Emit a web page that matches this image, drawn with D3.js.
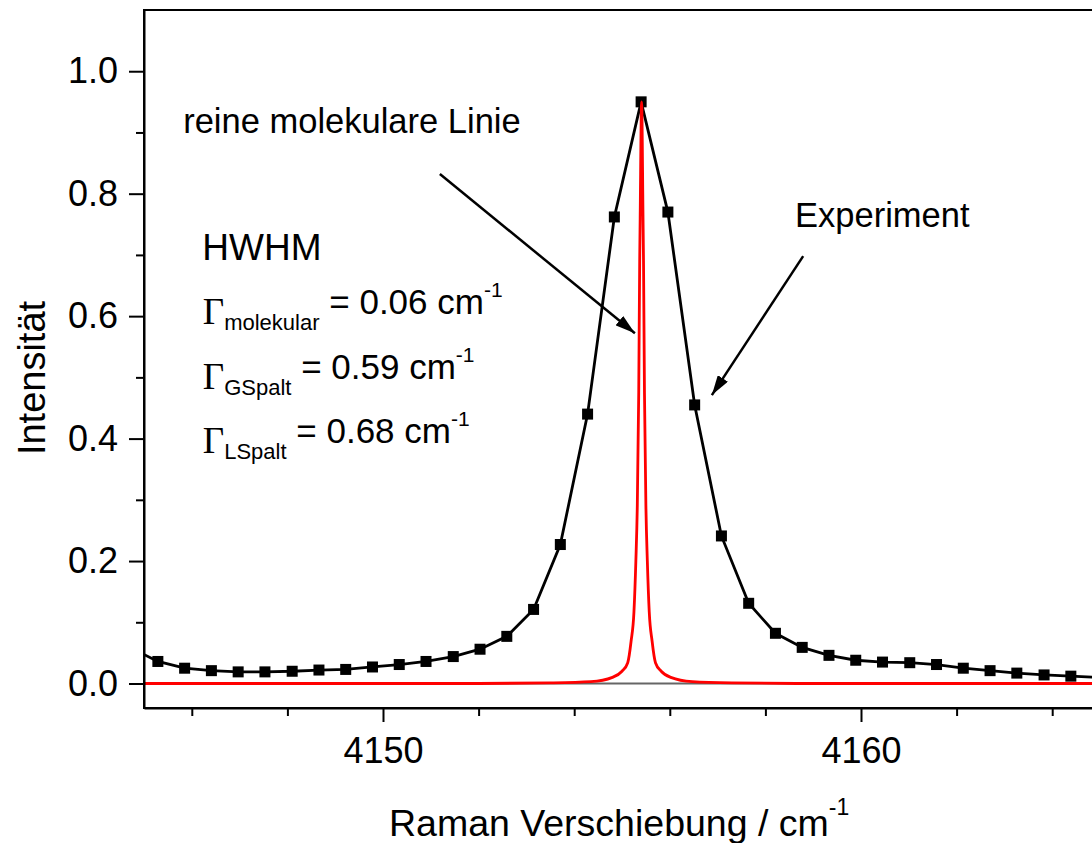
<!DOCTYPE html>
<html>
<head>
<meta charset="utf-8">
<script src="https://cdn.jsdelivr.net/npm/d3@7"></script>
<style>
	body { margin: 0; background: #fff; }
	text { font-family: "Liberation Sans", Arial, sans-serif; fill: #000; }
</style>
</head>
<body>
<div class="container"></div>
<script>
const WIDTH = 1092;
const HEIGHT = 843;
const LEFT = 144;
const RIGHT = 1100;
const TOP = 10;
const BOTTOM = 708;

// experiment: Raman shift / cm-1 and intensity
var expShift = [4144.73, 4145.29, 4145.85, 4146.41, 4146.97, 4147.53, 4148.10, 4148.66,
	4149.22, 4149.78, 4150.34, 4150.90, 4151.47, 4152.03, 4152.59, 4153.15, 4153.71,
	4154.28, 4154.84, 4155.40, 4155.96, 4156.52, 4157.08, 4157.65, 4158.21, 4158.77,
	4159.33, 4159.89, 4160.45, 4161.02, 4161.58, 4162.14, 4162.70, 4163.26, 4163.83,
	4164.39, 4164.95];
var expIntensity = [0.058, 0.036, 0.025, 0.021, 0.019, 0.019, 0.020, 0.022,
	0.023, 0.027, 0.031, 0.036, 0.044, 0.056, 0.077, 0.121, 0.227,
	0.440, 0.762, 0.950, 0.770, 0.455, 0.241, 0.131, 0.082, 0.059,
	0.046, 0.038, 0.035, 0.034, 0.031, 0.025, 0.021, 0.017, 0.014,
	0.012, 0.010];

// pure molecular line
var molShift = [4145.0, 4152.0, 4153.5, 4154.35, 4154.8, 4155.0, 4155.12, 4155.19, 4155.25,
	4155.29, 4155.32, 4155.35, 4155.37, 4155.38, 4155.41, 4155.44, 4155.45, 4155.47,
	4155.50, 4155.53, 4155.57, 4155.63, 4155.70, 4155.82, 4156.02, 4156.47, 4157.3,
	4159.0, 4165.0];
var molIntensity = [0.000, 0.000, 0.001, 0.003, 0.010, 0.020, 0.034, 0.069, 0.117,
	0.200, 0.290, 0.475, 0.690, 0.760, 0.950, 0.760, 0.690, 0.475,
	0.290, 0.200, 0.117, 0.069, 0.034, 0.020, 0.010, 0.003, 0.001,
	0.000, 0.000];

var xMajor = [4150, 4160];
var xMinor = [4146, 4148, 4152, 4154, 4156, 4158, 4162, 4164];
var yMajor = [0, 0.2, 0.4, 0.6, 0.8, 1.0];
var yMinor = [0.1, 0.3, 0.5, 0.7, 0.9];

var load = function(){
	var xScale = d3.scaleLinear().domain([4145, 4165]).range([LEFT, RIGHT]);
	var yScale = d3.scaleLinear().domain([-0.04, 1.1]).range([BOTTOM, TOP]);

	var svg = d3.select(".container").append("svg")
		.attr("width", WIDTH)
		.attr("height", HEIGHT);

	svg.append("clipPath").attr("id", "plot")
		.append("rect")
		.attr("x", LEFT).attr("y", TOP)
		.attr("width", RIGHT - LEFT).attr("height", BOTTOM - TOP);

	var plot = svg.append("g").attr("clip-path", "url(#plot)");

	// zero line
	plot.append("line")
		.attr("x1", LEFT).attr("x2", RIGHT)
		.attr("y1", yScale(0)).attr("y2", yScale(0))
		.attr("stroke", "#666").attr("stroke-width", 2);

	var expData = expShift.map(function(d, i){ return [d, expIntensity[i]]; });
	var molData = molShift.map(function(d, i){ return [d, molIntensity[i]]; });

	var line = d3.line()
		.x(function(d){ return xScale(d[0]); })
		.y(function(d){ return yScale(d[1]); });

	plot.append("path")
		.attr("d", line(expData))
		.attr("fill", "none")
		.attr("stroke", "#000")
		.attr("stroke-width", 2.8);

	plot.selectAll("rect.pt").data(expData)
		.enter()
		.append("rect")
		.classed("pt", true)
		.attr("x", function(d){ return xScale(d[0]) - 5.5; })
		.attr("y", function(d){ return yScale(d[1]) - 5.5; })
		.attr("width", 11)
		.attr("height", 11)
		.attr("fill", "#000");

	plot.append("path")
		.attr("d", line.curve(d3.curveMonotoneX)(molData))
		.attr("fill", "none")
		.attr("stroke", "#ff0000")
		.attr("stroke-width", 2.8);

	// frame
	svg.append("rect")
		.attr("x", LEFT).attr("y", TOP)
		.attr("width", RIGHT - LEFT).attr("height", BOTTOM - TOP)
		.attr("fill", "none").attr("stroke", "#000").attr("stroke-width", 2);

	// axes
	var xAxis = svg.append("g").attr("transform", "translate(0," + BOTTOM + ")")
		.call(d3.axisBottom(xScale).tickValues(xMajor).tickSize(14).tickSizeOuter(0)
			.tickPadding(15).tickFormat(d3.format("d")));
	var xAxisMinor = svg.append("g").attr("transform", "translate(0," + BOTTOM + ")")
		.call(d3.axisBottom(xScale).tickValues(xMinor).tickSize(8).tickFormat(""));
	var yAxis = svg.append("g").attr("transform", "translate(" + LEFT + ",0)")
		.call(d3.axisLeft(yScale).tickValues(yMajor).tickSize(15).tickSizeOuter(0)
			.tickPadding(11).tickFormat(d3.format(".1f")));
	var yAxisMinor = svg.append("g").attr("transform", "translate(" + LEFT + ",0)")
		.call(d3.axisLeft(yScale).tickValues(yMinor).tickSize(8).tickFormat(""));

	[xAxis, xAxisMinor, yAxis, yAxisMinor].forEach(function(a){
		a.select(".domain").attr("stroke-width", 2);
		a.selectAll(".tick line").attr("stroke-width", 2);
		a.selectAll(".tick text").style("font-size", "36px")
			.style("font-family", "'Liberation Sans', Arial, sans-serif");
	});
	xAxisMinor.select(".domain").remove();
	yAxisMinor.select(".domain").remove();

	// axis titles
	var xt = svg.append("text").attr("x", 389).attr("y", 836).style("font-size", "37.5px");
	xt.append("tspan").text("Raman Verschiebung / cm");
	xt.append("tspan").attr("dy", -21).style("font-size", "23px").text("-1");

	svg.append("text")
		.attr("transform", "translate(45,378) rotate(-90)")
		.attr("text-anchor", "middle")
		.style("font-size", "38px")
		.text("Intensität");

	// annotations
	svg.append("text")
		.attr("x", xScale(4145.82)).attr("y", yScale(0.899))
		.style("font-size", "34.5px")
		.text("reine molekulare Linie");

	svg.append("text")
		.attr("x", xScale(4158.62)).attr("y", yScale(0.745))
		.style("font-size", "34.5px")
		.text("Experiment");

	svg.append("text")
		.attr("x", xScale(4146.22)).attr("y", yScale(0.692))
		.style("font-size", "37px")
		.text("HWHM");

	var gammaRows = [
		{sub: "molekular", val: " = 0.06 cm", y: 0.603},
		{sub: "GSpalt", val: " = 0.59 cm", y: 0.498},
		{sub: "LSpalt", val: " = 0.68 cm", y: 0.393}
	];
	gammaRows.forEach(function(r){
		var t = svg.append("text")
			.attr("x", xScale(4146.23)).attr("y", yScale(r.y))
			.style("font-size", "35px");
		t.append("tspan").attr("dy", 10)
			.style("font-family", "'Liberation Serif', 'Times New Roman', serif")
			.style("font-size", "37px").text("Γ");
		t.append("tspan").attr("dy", 6).style("font-size", "22px").text(r.sub);
		t.append("tspan").attr("dy", -16).text(r.val);
		t.append("tspan").attr("dy", -17).style("font-size", "21px").text("-1");
	});

	svg.append("defs").append("marker")
		.attr("id", "arrow")
		.attr("viewBox", "0 0 20 12")
		.attr("refX", 20).attr("refY", 6)
		.attr("markerWidth", 8).attr("markerHeight", 4.8)
		.attr("markerUnits", "strokeWidth")
		.attr("orient", "auto")
		.append("path").attr("d", "M0,0 L20,6 L0,12 z").attr("fill", "#000");

	var arrows = [
		[[4151.19, 0.832], [4155.27, 0.572]],
		[[4158.79, 0.698], [4156.88, 0.471]]
	];
	svg.selectAll("line.arrow").data(arrows)
		.enter()
		.append("line")
		.classed("arrow", true)
		.attr("x1", function(d){ return xScale(d[0][0]); })
		.attr("y1", function(d){ return yScale(d[0][1]); })
		.attr("x2", function(d){ return xScale(d[1][0]); })
		.attr("y2", function(d){ return yScale(d[1][1]); })
		.attr("stroke", "#000")
		.attr("stroke-width", 2.5)
		.attr("marker-end", "url(#arrow)");
};

window.onload = load;
</script>
</body>
</html>
